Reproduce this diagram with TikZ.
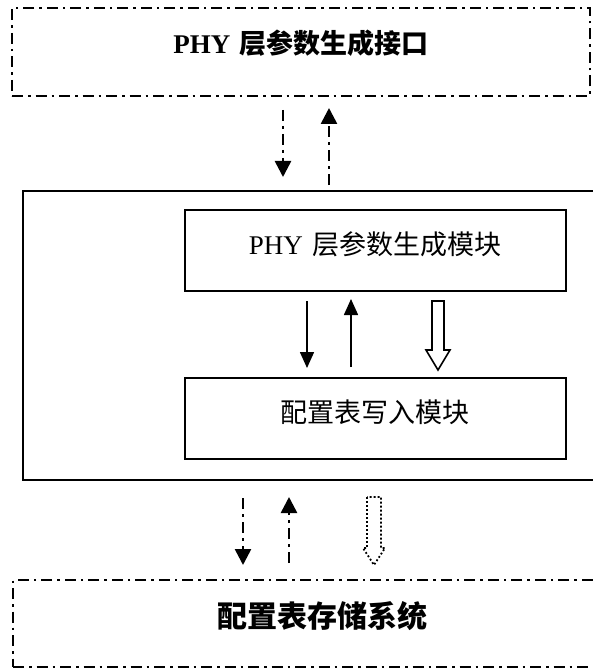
\documentclass[tikz,border=0pt]{standalone}
\usepackage{fontspec}
\setmainfont{Liberation Serif}
\newfontfamily\cjk{Noto Sans CJK SC}
\usetikzlibrary{arrows.meta,calc}
\begin{document}
\begin{tikzpicture}[x=1pt,y=-1pt,
  dashdotbox/.style={draw, line width=1.8pt, dash pattern=on 11pt off 5pt on 2.5pt off 5pt},
  solidbox/.style={draw, line width=1.8pt},
  ddarrow/.style={line width=2.6pt, dash pattern=on 11pt off 5pt on 3pt off 5pt, -{Triangle[width=16pt,length=16pt]}},
  solidarrow/.style={line width=1.6pt, -{Triangle[width=14pt,length=16pt]}},
  hollowarrow/.style={line width=1.6pt, line join=miter},
  dottedarrow/.style={line width=1.8pt, dash pattern=on 1.8pt off 2.2pt, line join=round},
  boldlabel/.style={font=\fontsize{27}{30}\selectfont\bfseries},
  biglabel/.style={font=\fontsize{30}{33}\selectfont\bfseries},
  plainlabel/.style={font=\fontsize{27}{30}\selectfont},
  inner sep=0pt, outer sep=0pt]
\clip (0,0) rectangle (593,671);
% boxes
\node[dashdotbox, minimum width=578pt, minimum height=88pt] (top) at (301,52) {};
\node[boldlabel] (toplabel) at (301,43) {PHY\hspace{0.35em}{\cjk 层参数生成接口}};
\node[solidbox, minimum width=577pt, minimum height=289pt] (outer) at (311.5,335.5) {};
\node[solidbox, minimum width=381pt, minimum height=81pt] (gen) at (375.5,250.5) {};
\node[plainlabel] (genlabel) at (375,244) {PHY\hspace{0.35em}{\cjk 层参数生成模块}};
\node[solidbox, minimum width=381pt, minimum height=81pt] (write) at (375.5,418.5) {};
\node[plainlabel] (writelabel) at (375,412) {{\cjk 配置表写入模块}};
\node[dashdotbox, minimum width=587pt, minimum height=87pt] (store) at (306.5,623.5) {};
\node[biglabel] (storelabel) at (322,616) {{\cjk 配置表存储系统}};
% columns
\coordinate (ca) at (283,0);
\coordinate (cb) at (329,0);
\coordinate (cc) at (307,0);
\coordinate (cd) at (351,0);
\coordinate (ce) at (438,0);
\coordinate (cf) at (243,0);
\coordinate (cg) at (289,0);
\coordinate (ch) at (374,0);
% top arrows
\draw[ddarrow, shorten <=14pt, shorten >=14pt] (top.south -| ca) -- (outer.north -| ca);
\draw[ddarrow, shorten <=6pt, shorten >=12pt] (outer.north -| cb) -- (top.south -| cb);
% inner arrows
\draw[solidarrow, shorten <=10pt, shorten >=10pt] (gen.south -| cc) -- (write.north -| cc);
\draw[solidarrow, shorten <=11pt, shorten >=8pt] (write.north -| cd) -- (gen.south -| cd);
\draw[hollowarrow] ($(gen.south -| ce)+(-6,10)$) -- ++(0,49) -- ++(-6,0) -- ++(12,20) -- ++(12,-20) -- ++(-6,0) -- ++(0,-49) -- cycle;
% bottom arrows
\draw[ddarrow, shorten <=18pt, shorten >=15pt] (outer.south -| cf) -- (store.north -| cf);
\draw[ddarrow, shorten <=17pt, shorten >=17pt] (store.north -| cg) -- (outer.south -| cg);
\draw[dottedarrow] ($(outer.south -| ch)+(-7,17)$) -- ++(0,51) -- ++(-4,0) -- ++(11,17) -- ++(11,-17) -- ++(-4,0) -- ++(0,-51) -- cycle;
\end{tikzpicture}
\end{document}
